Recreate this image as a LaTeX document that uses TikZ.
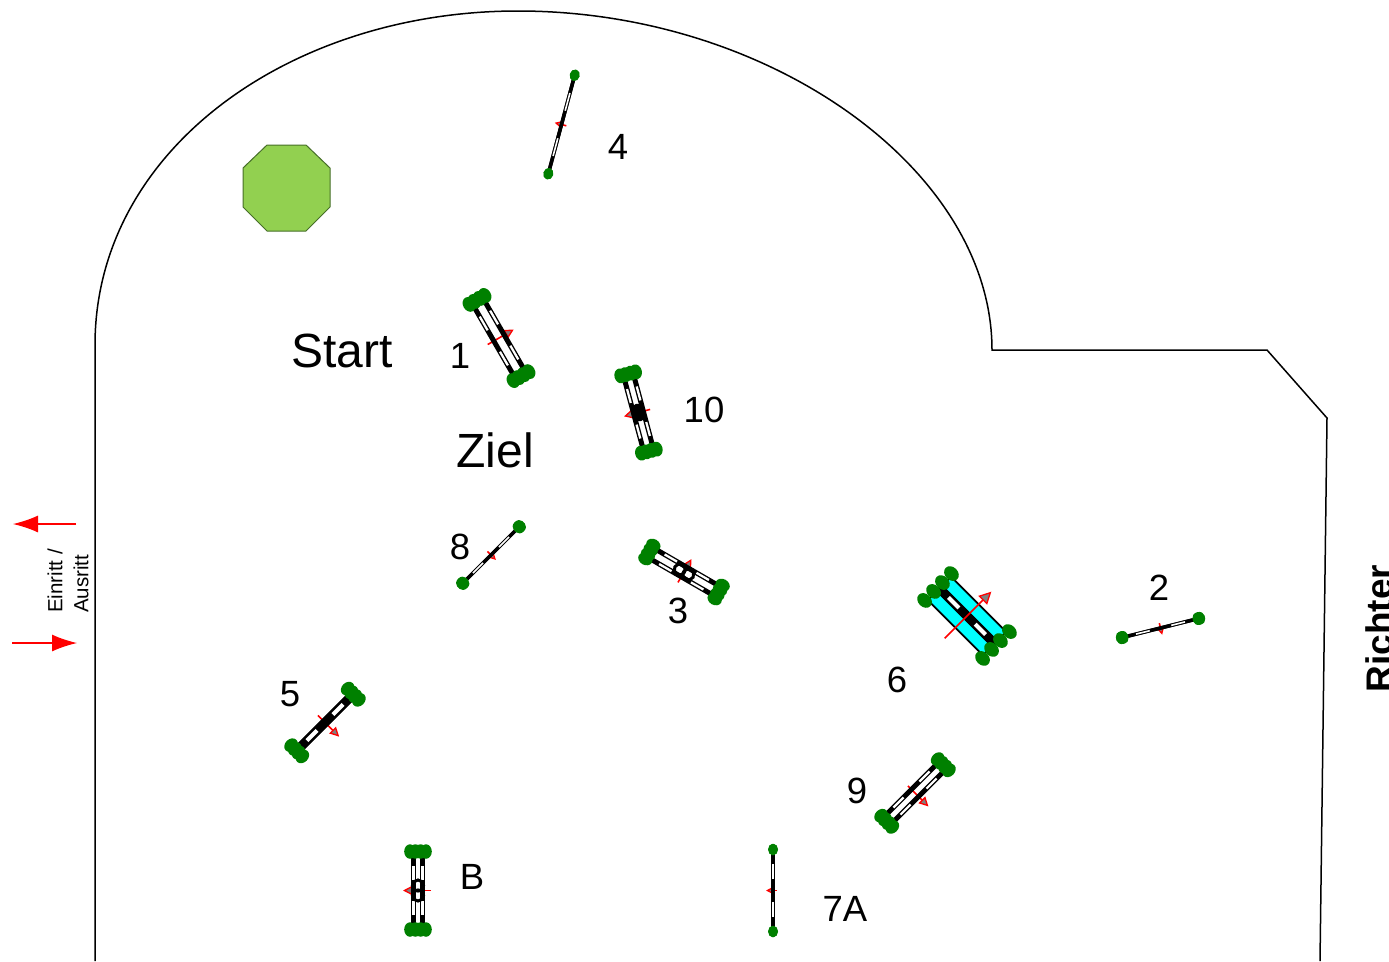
\documentclass[tikz,border=0pt]{standalone}
\usepackage{fontspec}
\setmainfont{Liberation Sans}
\usetikzlibrary{arrows.meta}

\definecolor{wingGreen}{RGB}{0,128,0}
\definecolor{treeGreen}{RGB}{146,208,80}
\definecolor{treeEdge}{RGB}{70,110,40}
\definecolor{waterCyan}{RGB}{0,255,255}

\tikzset{
  arena/.style={draw=black, line width=1.5},
  rail/.style={draw=black},
  railDash/.style={draw=white},
  wing/.style={fill=wingGreen},
  gate/.style={draw=red, line width=1.3, -{Latex[length=25pt,width=17pt]}},
  jumpNo/.style={inner sep=0pt, font=\fontsize{36.5}{38}\selectfont},
  bigWord/.style={inner sep=0pt, font=\fontsize{48}{50}\selectfont}
}

% Stange(n) mit Fluegeln: Mitte, Winkel, halbe Laenge, Abstand, Breite, Fluegel
\newcommand{\hurdle}[7]{
  \begin{scope}[shift={(#1)}, rotate=#2]
    \foreach \s in {-#4,#4} {
      \draw[rail, line width=#5] (-#3,\s) -- (#3,\s);
      \draw[railDash, line width=0.45*#5] (0.28*#3,\s) -- (0.64*#3,\s);
      \draw[railDash, line width=0.45*#5] (-0.28*#3,\s) -- (-0.64*#3,\s);
    }
    \foreach \k in {-1,-0.33,0.33,1} {
      \fill[wing] (-#3,\k*#6) ellipse[x radius=1.25*#7, y radius=#7];
      \fill[wing] (#3,\k*#6) ellipse[x radius=1.25*#7, y radius=#7];
    }
  \end{scope}
}

% Richtungspfeil: Mitte, Winkel, von, bis
\newcommand{\flagArrow}[4]{
  \begin{scope}[shift={(#1)}, rotate=#2]
    \pgfmathsetmacro{\tipLen}{7+0.08*abs(#4-(#3))}
    \draw[draw=red, line width=1.6, -{Triangle[length=\tipLen pt, width=\tipLen pt, line width=1.3pt, fill=gray]}] (0,#3) -- (0,#4);
  \end{scope}
}

% zwei Ringe in der Mitte
\newcommand{\ringPair}[2]{
  \begin{scope}[shift={(#1)}, rotate=#2]
    \draw[black, line width=3] (-5,0) circle[radius=5.5] (5,0) circle[radius=5.5];
  \end{scope}
}

\begin{document}
\begin{tikzpicture}[x=1pt, y=-1pt]
  \useasboundingbox (0,0) rectangle (1389,961);

  % Viereck
  \draw[arena] (95,961) -- (95,345) .. controls (95,150) and (290,11) .. (518,11)
    .. controls (770,11) and (992,170) .. (992,350) -- (1267,350) -- (1327,418) -- (1320,961);

  % Baum
  \draw[draw=treeEdge, fill=treeGreen, line width=1] (267,145) -- (306,145) -- (330,168)
    -- (330,207) -- (306,231) -- (267,231) -- (243,207) -- (243,168) -- cycle;

  % Einritt
  \coordinate (gateInA) at (76,524);
  \coordinate (gateInB) at (13,524);
  \coordinate (gateOutA) at (12,643);
  \coordinate (gateOutB) at (77,643);
  \draw[gate] (gateInA) -- (gateInB);
  \draw[gate] (gateOutA) -- (gateOutB);
  \node[rotate=90, anchor=west, align=left, inner sep=0pt,
    font=\fontsize{20.5}{26}\selectfont] (gateText) at (68,613) {Einritt /\\Ausritt};

  % Hindernis 1
  \flagArrow{499,338}{-60}{13}{-17}
  \hurdle{499,338}{-60}{44}{6}{5}{9}{6.2}
  % Hindernis 2
  \flagArrow{1160.5,628}{14}{-5}{7}
  \hurdle{1160.5,628}{14}{39.5}{0}{3.5}{1.5}{5}
  % Hindernis 3
  \flagArrow{684,572}{-30}{12}{-15}
  \hurdle{684,572}{-30}{40}{5.5}{5}{8}{6}
  \ringPair{684,572}{-30}
  % Hindernis 4
  \flagArrow{561.5,124.5}{75}{5}{-7}
  \hurdle{561.5,124.5}{75}{51}{0}{3.5}{0.5}{4.5}
  % Hindernis 5
  \flagArrow{325,722.5}{45}{-10}{20}
  \hurdle{325,722.5}{45}{40}{0}{9}{8}{6}
  % Hindernis 6
  \begin{scope}[shift={(967,616)}, rotate=-45]
    \draw[fill=waterCyan, draw=black, line width=1.8] (-39,-16.5) rectangle (39,16.5);
  \end{scope}
  \hurdle{967,616}{-45}{41}{0}{9}{19}{6.5}
  \flagArrow{968,615}{-45}{33}{-33}
  % Hindernis 7A
  \flagArrow{773,890.5}{-90}{-4}{7}
  \hurdle{773,890.5}{-90}{41}{0}{3.5}{0.5}{4.5}
  % Hindernis 8
  \flagArrow{491,555}{45}{-5}{7}
  \hurdle{491,555}{45}{40}{0}{3.5}{1.5}{5}
  % Hindernis 9
  \flagArrow{915,793}{45}{-10}{19}
  \hurdle{915,793}{45}{40}{5}{5}{8}{6}
  % Hindernis 10
  \flagArrow{638.5,412.5}{-75}{-12}{15}
  \hurdle{638.5,412.5}{-75}{40}{5}{5}{8}{6}
  \begin{scope}[shift={(638.5,412.5)}, rotate=-75]
    \fill[black] (0,0) ellipse[x radius=9, y radius=6];
  \end{scope}
  % Hindernis B
  \flagArrow{418,890.5}{-90}{-13}{15}
  \hurdle{418,890.5}{-90}{39}{4.5}{5}{8}{5.8}
  \ringPair{418,890.5}{-90}

  % Beschriftung
  \node[bigWord] (startText) at (342,351) {Start};
  \node[bigWord] (zielText) at (495,450) {Ziel};
  \node[jumpNo] (no1) at (460,356) {1};
  \node[jumpNo] (no2) at (1159,588) {2};
  \node[jumpNo] (no3) at (678,611) {3};
  \node[jumpNo] (no4) at (618,147) {4};
  \node[jumpNo] (no5) at (290,694) {5};
  \node[jumpNo] (no6) at (897,680) {6};
  \node[jumpNo] (no7a) at (845,909) {7A};
  \node[jumpNo] (no8) at (460,547) {8};
  \node[jumpNo] (no9) at (857,791) {9};
  \node[jumpNo] (no10) at (704,410) {10};
  \node[jumpNo] (noB) at (472,877) {B};
  \node[rotate=90, anchor=base, inner sep=0pt,
    font=\bfseries\fontsize{37}{38}\selectfont] (judgeText) at (1392,628.5) {Richter};
\end{tikzpicture}
\end{document}
